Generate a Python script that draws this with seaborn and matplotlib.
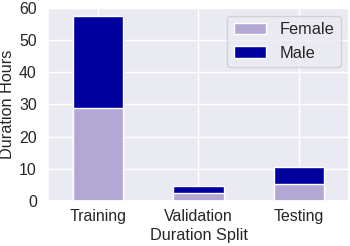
#!/usr/bin/env python3
# Stacked duration bars per split (female / male)
import pandas as pd
import seaborn as sns
import matplotlib.pyplot as plt

splits = ["Training", "Validation", "Testing"]
female = [28.8, 2.4, 5.2]
male = [28.7, 2.4, 5.5]

c_female = "#b3a7d4"
c_male = "#0000a0"

sns.set_theme(style="darkgrid", context="notebook")
plt.rcParams["font.family"] = ["Liberation Sans", "DejaVu Sans"]
plt.rcParams["xtick.labelsize"] = 11.4
plt.rcParams["ytick.labelsize"] = 11.4
plt.rcParams["axes.labelsize"] = 11.7
plt.rcParams["legend.fontsize"] = 11.8
plt.rcParams["xtick.major.size"] = 0
plt.rcParams["ytick.major.size"] = 0
plt.rcParams["xtick.major.pad"] = 6.1
plt.rcParams["ytick.major.pad"] = 8

df = pd.DataFrame({"split": splits, "Female": female, "Male": male})
df["total"] = df["Female"] + df["Male"]

fig, ax = plt.subplots(figsize=(3.5, 2.46), dpi=100)
fig.subplots_adjust(left=0.137, right=0.997, top=0.969, bottom=0.183)

# male drawn as the full stack, female over its lower part
sns.barplot(data=df, x="split", y="total", color=c_male, width=0.5,
            saturation=1, label="Male", ax=ax)
sns.barplot(data=df, x="split", y="Female", color=c_female, width=0.5,
            saturation=1, label="Female", ax=ax)

ax.xaxis.grid(True)
ax.set_ylim(0, 60)
ax.set_yticks(range(0, 61, 10))
ax.set_xlabel("Duration Split")
ax.set_ylabel("Duration Hours")
ax.xaxis.set_label_coords(0.5, -0.140)
ax.yaxis.set_label_coords(-0.111, 0.5)

h, l = ax.get_legend_handles_labels()
order = [l.index("Female"), l.index("Male")]
ax.legend([h[i] for i in order], [l[i] for i in order], loc="upper right")

plt.savefig("out.png", dpi=100)
plt.close()
